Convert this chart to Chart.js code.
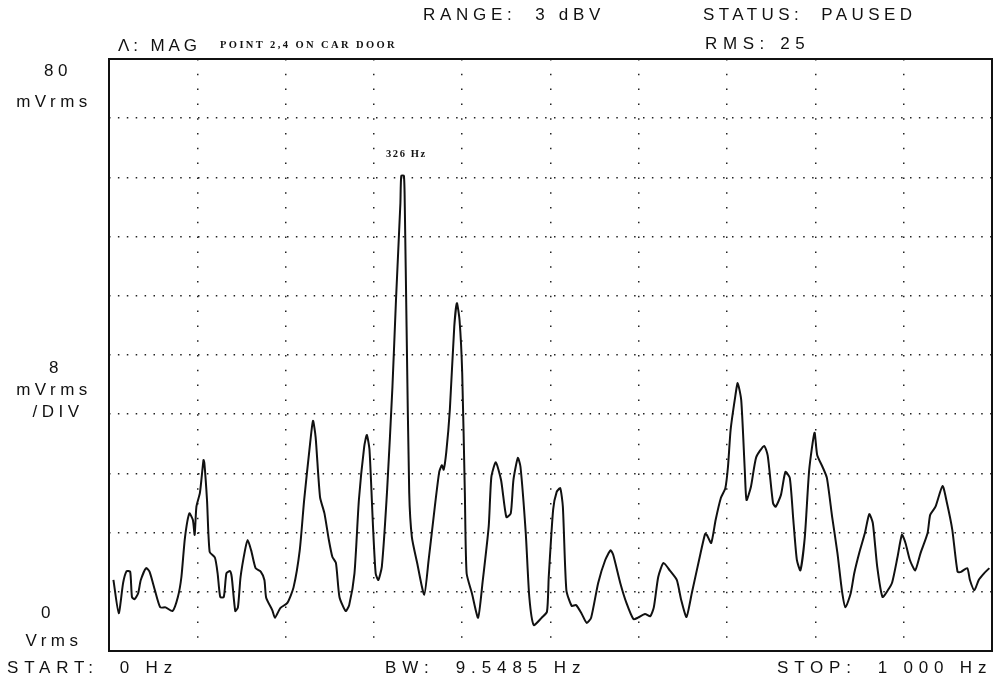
<!DOCTYPE html>
<html>
<head>
<meta charset="utf-8">
<script src="https://cdn.jsdelivr.net/npm/chart.js@4"></script>
<style>
  html, body { margin: 0; padding: 0; background: #fff; }
  #wrap { position: relative; width: 993px; height: 684px; overflow: hidden; }
  canvas { position: absolute; left: 0; top: 0; }
  .t { position: absolute; font-family: "Liberation Sans", Arial, sans-serif; font-size: 17px;
       letter-spacing: 4.5px; color: #111; white-space: pre; line-height: 1; transform: translateY(-50%); }
  .s { position: absolute; font-family: "Liberation Serif", serif; font-size: 10.5px; font-weight: bold;
       letter-spacing: 2.4px; color: #111; white-space: pre; line-height: 1; transform: translateY(-50%); }
  .c { text-align: center; width: 120px; margin-left: -60px; }
</style>
</head>
<body>
<div id="wrap">
  <canvas id="spec" width="993" height="684"></canvas>
  <div class="t" style="left:423px; top:14px; letter-spacing:4.7px">RANGE:  3 dBV</div>
  <div class="t" style="left:703px; top:14px; letter-spacing:4.4px">STATUS:  PAUSED</div>
  <div class="t" style="left:118px; top:45px; letter-spacing:3.9px">Λ: MAG</div>
  <div class="s" style="left:220px; top:45px">POINT 2,4 ON CAR DOOR</div>
  <div class="t" style="left:705px; top:43px; letter-spacing:5.6px">RMS: 25</div>
  <div class="s" style="left:386px; top:154px; letter-spacing:1.6px">326 Hz</div>
  <div class="t c" style="left:58px; top:70px">80</div>
  <div class="t c" style="left:54px; top:101px">mVrms</div>
  <div class="t c" style="left:56px; top:367px">8</div>
  <div class="t c" style="left:54px; top:389px">mVrms</div>
  <div class="t c" style="left:58px; top:411px">/DIV</div>
  <div class="t c" style="left:48px; top:612px">0</div>
  <div class="t c" style="left:54px; top:640px">Vrms</div>
  <div class="t" style="left:7px; top:667px; letter-spacing:5.8px">START:  0 Hz</div>
  <div class="t" style="left:385px; top:667px; letter-spacing:5.9px">BW:  9.5485 Hz</div>
  <div class="t" style="left:777px; top:667px; letter-spacing:5.8px">STOP:  1 000 Hz</div>
</div>
<script>
// spectrum trace (Hz, mVrms)
var freqs = [5,11,16,20,24,26,29,33,36,42,46,52,58,64,72,78,82,86,91,95,
  97,99,103,107,108,111,114,120,123,126,130,133,137,139,143,146,149,154,157,161,
  166,172,176,178,185,188,194,202,209,216,221,227,231,234,239,244,249,
  253,257,261,268,272,278,283,289,292,295,299,302,305,309,315,321,325,330,331,334,
  335,337,340,343,349,357,362,369,374,377,379,382,386,391,394,397,400,403,405,411,
  418,423,430,433,438,444,450,455,458,463,466,472,476,481,490,496,
  498,503,507,511,514,518,524,529,535,541,546,554,562,568,571,579,586,594,599,607,
  613,617,622,628,635,643,648,654,660,669,675,677,682,687,693,698,701,704,709,712,
  716,720,722,727,733,742,746,
  752,755,761,766,771,775,779,783,788,793,799,802,808,813,819,825,830,834,840,844,
  850,856,861,865,870,876,882,887,893,898,902,907,913,919,927,930,936,944,949,955,
  961,965,972,975,980,985,991,997];
var mags = [9.6,5.1,9.2,10.8,10.7,7.3,7.0,7.8,9.6,11.2,10.7,8.2,5.9,5.9,5.4,7.3,10.0,15.3,18.6,17.7,
  15.7,19.5,21.4,25.8,25.4,20.4,13.4,12.6,10.5,7.3,7.3,10.5,10.8,10.0,5.4,5.9,10.0,13.6,15.0,13.6,
  11.2,10.7,9.6,7.2,5.5,4.5,5.8,6.5,8.6,13.6,20.4,27.2,31.1,28.9,20.8,18.6,15.0,
  12.7,11.9,7.3,5.4,6.2,10.5,20.4,27.6,29.2,27.2,16.8,10.5,9.6,11.4,21.8,35.7,47.4,60.5,64.2,64.2,
  60.0,43.8,21.4,15.4,11.9,7.6,12.3,19.5,24.2,25.1,24.5,26.9,32.6,43.8,47.0,44.7,37.6,21.4,10.5,7.8,
  4.5,9.2,16.8,23.5,25.5,23.1,18.1,18.6,23.1,26.1,24.9,15.9,7.3,3.5,4.5,5.3,
  10.0,19.1,21.5,22.0,19.5,8.2,6.1,6.2,5.1,3.8,4.5,9.2,12.3,13.6,13.0,9.2,6.5,4.3,4.5,5.0,
  4.7,5.9,10.0,11.9,10.9,9.6,6.9,4.6,7.8,12.7,15.8,15.7,14.6,17.7,20.7,22.0,24.9,29.9,34.2,36.2,
  33.9,24.5,20.4,22.2,26.2,27.7,26.4,
  20.0,19.5,21.1,24.2,23.4,17.7,12.3,10.9,15.4,24.5,29.5,26.5,24.9,23.4,18.1,13.2,8.2,5.9,7.8,10.5,
  13.4,15.9,18.5,17.3,11.4,7.3,8.2,9.3,12.7,15.7,14.6,12.3,10.9,13.2,15.9,18.4,19.5,22.3,20.0,16.4,
  10.7,10.7,11.2,9.6,8.2,9.6,10.5,11.2];
var xMin = 0, xMax = 1000, xStep = 100;
var yMin = 0, yMax = 80, yStep = 8;

var points = freqs.map(function (f, i) { return { x: f, y: mags[i] }; });

// solid frame round the plot area
var frame = {
  id: 'frame',
  afterDraw: function (chart) {
    var a = chart.chartArea, ctx = chart.ctx;
    ctx.save();
    ctx.strokeStyle = '#111';
    ctx.lineWidth = 2;
    ctx.strokeRect(a.left, a.top, a.right - a.left, a.bottom - a.top);
    ctx.restore();
  }
};

var ctx = document.getElementById('spec').getContext('2d');
new Chart(ctx, {
  type: 'line',
  data: {
    datasets: [{
      data: points,
      borderColor: '#111',
      borderWidth: 2,
      pointRadius: 0,
      tension: 0.2,
      fill: false
    }]
  },
  options: {
    responsive: false,
    animation: false,
    layout: { padding: { left: 109, top: 59, right: 1, bottom: 33 } },
    plugins: { legend: { display: false }, tooltip: { enabled: false } },
    scales: {
      x: {
        type: 'linear', min: xMin, max: xMax,
        afterFit: function (s) { s.height = 0; },
        ticks: { display: false, stepSize: xStep },
        grid: { color: '#222', lineWidth: 1.5, drawTicks: false },
        border: { display: false, dash: [1.5, 13.3] }
      },
      y: {
        min: yMin, max: yMax,
        afterFit: function (s) { s.width = 0; },
        ticks: { display: false, stepSize: yStep },
        grid: { color: '#222', lineWidth: 1.5, drawTicks: false },
        border: { display: false, dash: [1.5, 7.4] }
      }
    }
  },
  plugins: [frame]
});
</script>
</body>
</html>
